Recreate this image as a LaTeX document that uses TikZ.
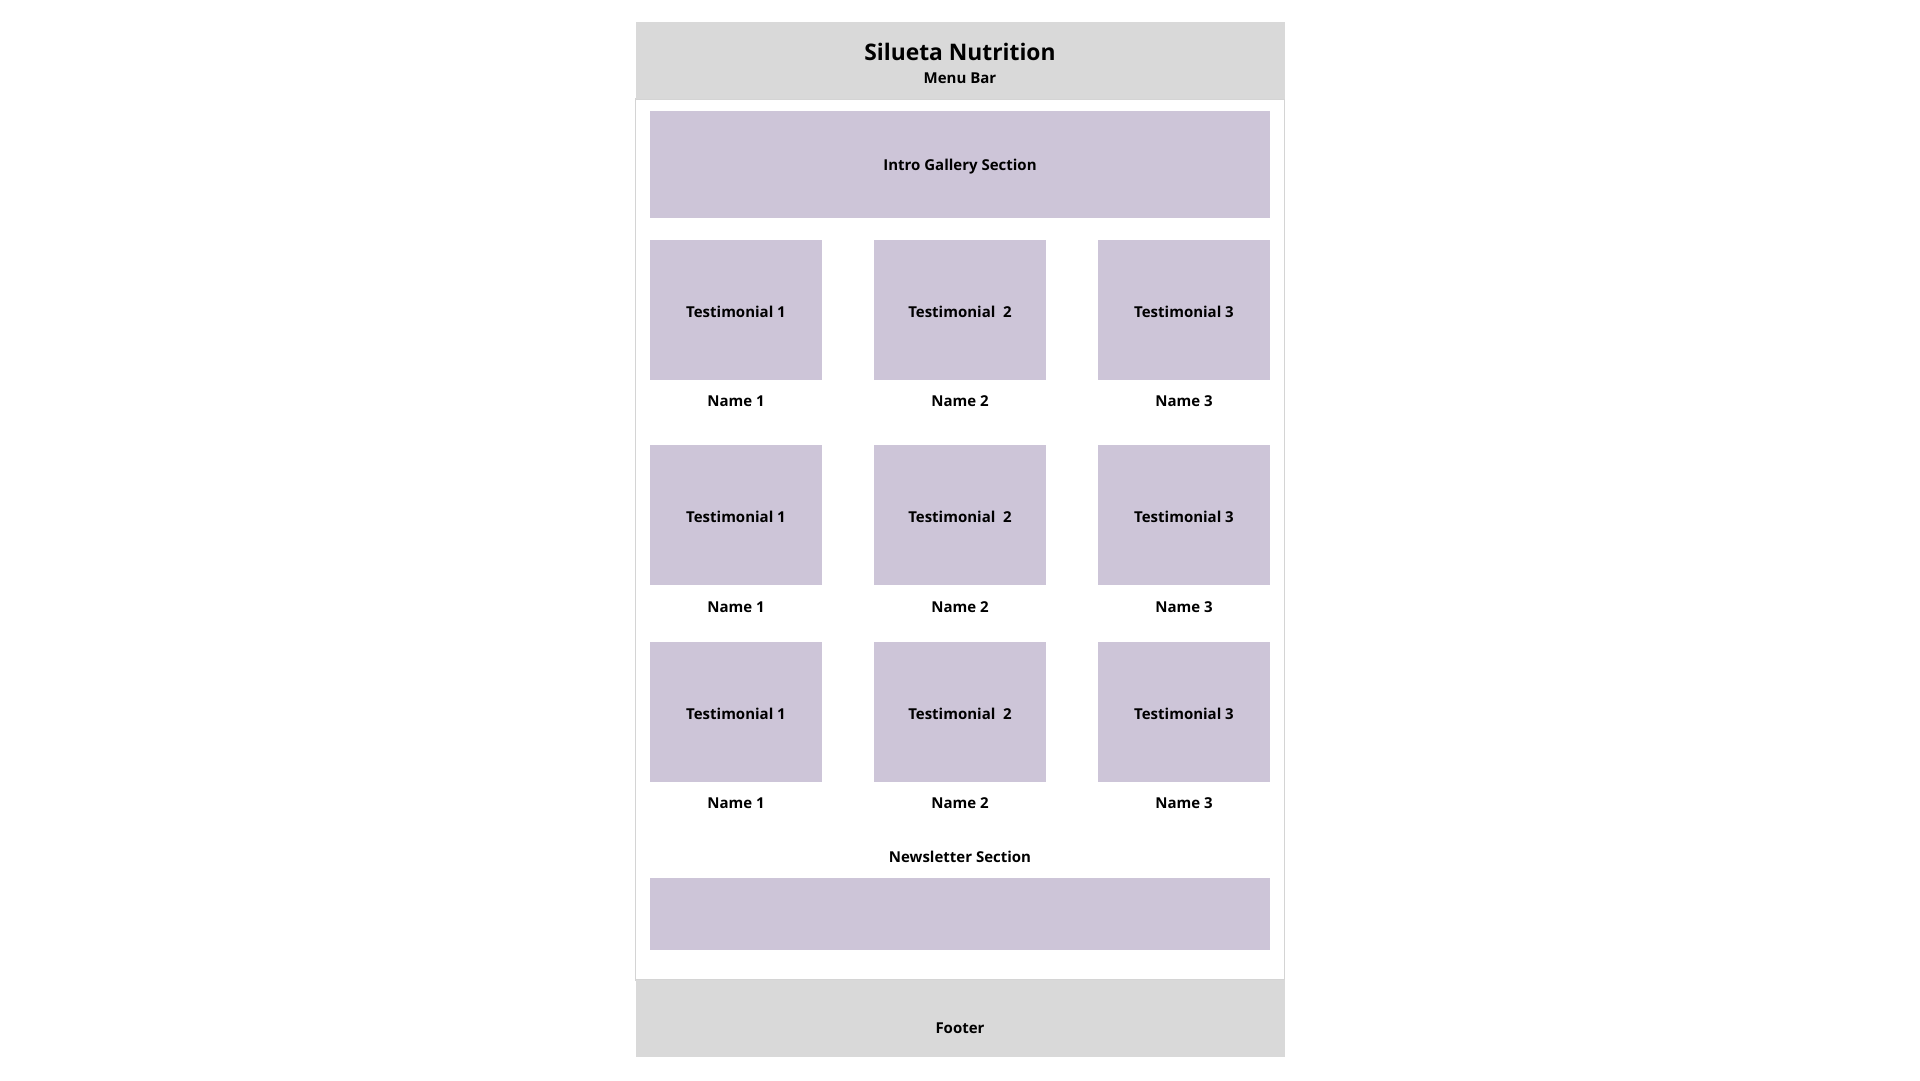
\documentclass[tikz,border=0pt]{standalone}
\usepackage{fontspec}
\setmainfont{Open Sans}
\definecolor{hdrgray}{HTML}{D9D9D9}
\definecolor{lilac}{HTML}{CDC5D8}
\definecolor{panelline}{HTML}{D4D4D4}
\tikzset{
  x=1pt, y=-1pt,
  bar/.style={fill=hdrgray, draw=none, inner sep=0pt, minimum width=649pt, minimum height=77pt},
  block/.style={fill=lilac, draw=none, inner sep=0pt},
  wide/.style={block, minimum width=620pt},
  tbox/.style={block, minimum width=172pt, minimum height=140pt},
  lbl/.style={inner sep=0pt, font=\fontsize{15}{18}\selectfont\bfseries},
}
\begin{document}
\begin{tikzpicture}
\useasboundingbox (0,0) rectangle (1920,1080);
\fill[white] (0,0) rectangle (1920,1080);
% page panel
\draw[panelline, line width=1.3pt] (635.5,99) rectangle (1284.5,980);
% header
\node[bar] (header) at (960,60.5) {};
\node[inner sep=0pt, font=\fontsize{22.8}{27}\selectfont\bfseries] (title) at (960,52) {Silueta Nutrition};
\node[lbl] (menu) at (960,78.5) {Menu Bar};
% intro gallery
\node[wide, minimum height=107pt] (gallery) at (960,164.5) {};
\node[lbl] (gallerytxt) at (960,166.5) {Intro Gallery Section};
% testimonials
\foreach \r/\y/\ny in {1/310/401, 2/515/607, 3/712/803}{
  \node[tbox] (t\r a) at (736,\y) {};
  \node[tbox] (t\r b) at (960,\y) {};
  \node[tbox] (t\r c) at (1184,\y) {};
  \node[lbl] (l\r a) at (736,\y+1.5) {Testimonial 1};
  \node[lbl] (l\r b) at (960,\y+1.5) {Testimonial\ \ 2};
  \node[lbl] (l\r c) at (1184,\y+1.5) {Testimonial 3};
  \node[lbl] (n\r a) at (736,\ny) {Name 1};
  \node[lbl] (n\r b) at (960,\ny) {Name 2};
  \node[lbl] (n\r c) at (1184,\ny) {Name 3};
}
% newsletter
\node[lbl] (newslbl) at (960,857) {Newsletter Section};
\node[wide, minimum height=72pt] (news) at (960,914) {};
% footer
\node[bar] (footer) at (960,1018.5) {};
\node[lbl] (footerlbl) at (960,1028) {Footer};
\end{tikzpicture}
\end{document}
